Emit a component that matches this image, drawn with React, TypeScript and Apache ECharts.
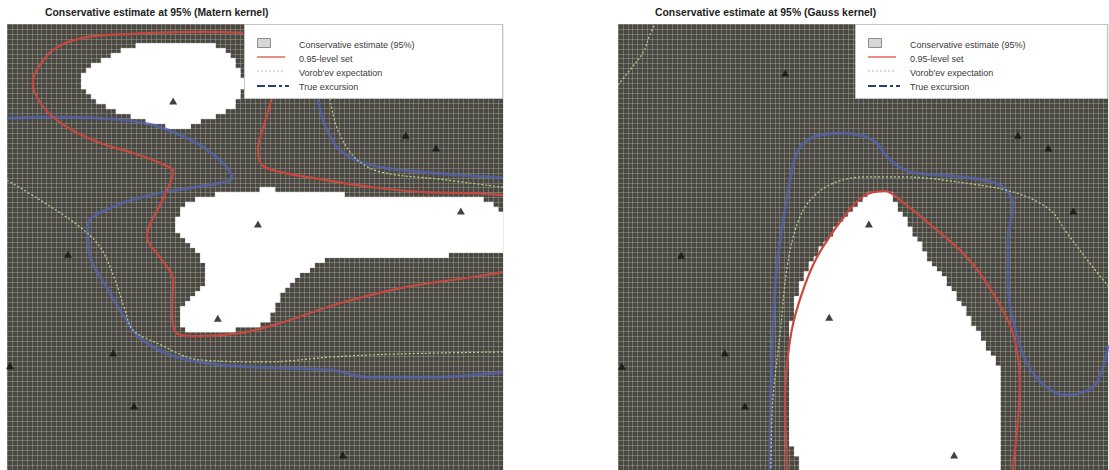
import { useEffect, useRef } from "react";
import * as echarts from "echarts";

// Cell grid: 100 columns per panel, rows counted from the top; the visible
// part of each panel shows rows 0 to ~90.
const X_MAX = 100;
const Y_MAX = 89.9;

// Conservative estimate (95%), one run of cells per row: [row, firstCol, endCol)
const maternEstimateRuns: number[][] = [
  [4, 26, 42], [5, 23, 44], [6, 21, 45], [7, 19, 46], [8, 17, 46], [9, 16, 47],
  [10, 15, 47], [11, 15, 48], [12, 15, 48], [13, 16, 47], [14, 17, 47], [15, 18, 46],
  [16, 20, 46], [17, 22, 44], [18, 25, 42], [19, 28, 39], [20, 32, 37],
  [33, 51, 54], [34, 42, 68], [35, 38, 96], [36, 36, 98], [37, 35, 99], [38, 35, 100],
  [39, 34, 100], [40, 34, 100], [41, 34, 100], [42, 35, 100], [43, 36, 100], [44, 37, 100],
  [45, 38, 100], [46, 39, 89], [47, 39, 64], [48, 40, 62], [49, 40, 61], [50, 40, 59],
  [51, 40, 58], [52, 40, 57], [53, 39, 56], [54, 38, 55], [55, 37, 55], [56, 36, 54],
  [57, 35, 54], [58, 35, 53], [59, 35, 53], [60, 35, 51], [61, 36, 46],
];

const gaussEstimateRuns: number[][] = [
  [34, 51, 56], [35, 50, 56], [36, 49, 57], [37, 48, 57], [38, 47, 58], [39, 46, 59],
  [40, 45, 59], [41, 44, 60], [42, 44, 60], [43, 43, 61], [44, 42, 62], [45, 41, 62],
  [46, 41, 63], [47, 40, 63], [48, 39, 64], [49, 39, 65], [50, 38, 66], [51, 38, 67],
  [52, 37, 67], [53, 37, 68], [54, 37, 69], [55, 36, 69], [56, 36, 70], [57, 36, 71],
  [58, 36, 71], [59, 36, 72], [60, 35, 72], [61, 35, 73], [62, 35, 74], [63, 35, 74],
  [64, 35, 75], [65, 35, 75], [66, 35, 76], [67, 35, 77], [68, 35, 77], [69, 35, 78],
  [70, 35, 78], [71, 35, 78], [72, 35, 78], [73, 35, 78], [74, 35, 78], [75, 35, 78],
  [76, 35, 78], [77, 35, 78], [78, 35, 78], [79, 35, 78], [80, 35, 78], [81, 35, 78],
  [82, 35, 78], [83, 35, 78], [84, 35, 78], [85, 36, 78], [86, 36, 78], [87, 37, 78],
  [88, 37, 78], [89, 37, 78],
];

// Observation locations [x, y]
const maternPoints: number[][] = [
  [33.5, 15.5], [80.4, 22.4], [86.5, 25.0], [50.6, 40.3], [91.5, 37.7], [12.3, 46.4],
  [42.5, 59.3], [21.4, 66.3], [0.6, 68.9], [25.6, 77.0], [67.7, 86.9],
];
const gaussPoints: number[][] = [
  [34.1, 9.9], [81.6, 22.4], [87.8, 25.0], [92.9, 37.7], [51.2, 40.3], [12.9, 46.6],
  [43.1, 59.1], [21.8, 66.3], [0.8, 69.0], [25.9, 77.0], [68.6, 86.9],
];

// 0.95-level set contours
const maternLevelOuter: number[][] = [
  [47.6, 1.8], [38.9, 1.6], [25.4, 2.0], [15.3, 2.8], [9.3, 5.2], [6.0, 9.3], [5.2, 11.9],
  [7.3, 16.7], [12.1, 20.8], [18.8, 24.0], [25.4, 26.0], [30.8, 28.0], [33.5, 29.8],
  [31.3, 35.5], [28.2, 42.9], [30.8, 47.0], [33.5, 51.6], [33.3, 57.7], [33.9, 62.1],
  [37.5, 62.9], [47.0, 62.3], [55.0, 60.3], [67.1, 56.3], [80.6, 53.0], [94.0, 51.0],
  [100, 50.0],
];
const maternLevelInner: number[][] = [
  [53.4, 15.1], [51.8, 20.4], [50.6, 25.4], [51.4, 28.4], [55.0, 29.8], [64.5, 31.5],
  [73.8, 32.9], [83.9, 33.9], [94.0, 34.1], [100, 34.5],
];
const gaussLevel: number[][] = [
  [34.7, 100], [34.5, 89.9], [34.1, 75.8], [35.1, 63.7], [37.1, 55.6], [40.6, 47.0],
  [46.7, 38.1], [50.4, 34.5], [54.5, 33.7], [57.6, 35.5], [64.3, 40.9], [71.2, 47.0],
  [76.5, 54.2], [80.6, 62.3], [82.0, 72.4], [81.4, 82.5], [80.6, 89.9], [80.4, 100],
];

// Vorob'ev expectation contours
const maternVorobevLower: number[][] = [
  [0, 31.5], [6.7, 35.5], [14.7, 40.9], [18.8, 45.0], [21.8, 51.6], [23.8, 57.7],
  [25.4, 61.7], [30.2, 64.3], [38.9, 67.7], [52.4, 68.1], [65.7, 67.1], [79.2, 66.5],
  [100, 66.1],
];
const maternVorobevUpper: number[][] = [
  [65.1, 15.1], [66.7, 21.4], [70.2, 27.0], [75.2, 29.8], [87.3, 31.3], [100, 32.9],
];
const gaussVorobevCorner: number[][] = [
  [0, 12.3], [2.4, 9.3], [5.1, 5.8], [6.5, 2.2], [7.6, 0],
];
const gaussVorobev: number[][] = [
  [31.0, 100], [31.2, 89.3], [31.6, 75.8], [33.1, 62.3], [34.5, 49.0], [36.5, 40.5],
  [39.2, 35.5], [43.9, 32.1], [50.8, 30.8], [57.6, 30.8], [71.2, 32.1], [81.4, 34.1],
  [88.2, 37.5], [91.6, 42.1], [96.9, 49.0], [100.2, 53.0],
];

// True excursion contours
const maternTrueMain: number[][] = [
  [0, 19.0], [8.7, 18.8], [18.8, 19.0], [28.8, 20.2], [37.9, 23.8], [43.3, 27.8],
  [45.4, 31.0], [38.9, 32.7], [28.8, 34.5], [20.8, 37.1], [16.3, 40.5], [16.7, 46.6],
  [20.4, 53.6], [23.8, 59.3], [26.8, 63.3], [32.9, 66.7], [40.9, 68.5], [51.0, 69.2],
  [65.7, 69.8], [72.6, 71.2], [85.9, 71.2], [100, 70.2],
];
const maternTrueUpper: number[][] = [
  [62.7, 15.1], [64.1, 20.4], [67.1, 25.4], [73.2, 28.4], [83.3, 29.8], [100, 31.0],
];
const gaussTrue: number[][] = [
  [31.0, 100], [31.0, 89.3], [31.2, 75.8], [31.6, 62.3], [32.4, 49.0], [34.1, 37.5],
  [36.5, 26.0], [39.8, 22.8], [45.9, 22.0], [52.0, 23.4], [55.5, 27.4], [59.6, 29.8],
  [69.8, 30.8], [78.0, 32.5], [80.6, 36.5], [79.6, 43.5], [79.6, 51.6], [80.6, 59.7],
  [84.7, 70.4], [91.6, 74.8], [96.9, 73.2], [99.0, 69.2], [100, 64.7],
];

const titles = [
  "Conservative estimate at 95% (Matern kernel)",
  "Conservative estimate at 95% (Gauss kernel)",
];
const legendLabels = [
  "Conservative estimate (95%)",
  "0.95-level set",
  "Vorob'ev expectation",
  "True excursion",
];

const FONT = "'Liberation Sans', Arial, Helvetica, sans-serif";
const CELL_BG = "#4a4843";
const CELL_LINE = "rgba(196, 194, 176, 0.34)";
const RED = "#c6493f";
const GREEN = "#b9d48e";
const BLUE = "rgba(84, 100, 176, 0.72)";

const panels = [
  { left: 7, width: 496, legendX: 244, legendRight: 503, titleX: 45 },
  { left: 618, width: 490, legendX: 855, legendRight: 1108, titleX: 655 },
];

const TOP = 24;
const PANEL_HEIGHT = 446;

function legendGraphic(x0: number, right: number) {
  const iconX = x0 + 13;
  const textX = x0 + 55;
  const rows = [45, 59, 73, 87];
  const z = 100;
  return [
    {
      type: "rect",
      z,
      shape: { x: x0 + 0.5, y: 24.5, width: right - x0 - 1, height: 74 },
      style: { fill: "#ffffff", stroke: "#c4c4c4", lineWidth: 1 },
    },
    {
      type: "rect",
      z: z + 1,
      shape: { x: iconX + 0.5, y: 38.5, width: 13, height: 9 },
      style: { fill: "#d6d6d6", stroke: "#8c8c8c", lineWidth: 1 },
    },
    {
      type: "line",
      z: z + 1,
      shape: { x1: iconX, y1: 57, x2: iconX + 28, y2: 57 },
      style: { stroke: "#e3675e", lineWidth: 1.5 },
    },
    {
      type: "line",
      z: z + 1,
      shape: { x1: iconX, y1: 71, x2: iconX + 28, y2: 71 },
      style: { stroke: "#9cc69a", lineWidth: 1.2, lineDash: [2, 2] },
    },
    {
      type: "line",
      z: z + 1,
      shape: { x1: iconX, y1: 86, x2: iconX + 32, y2: 86 },
      style: { stroke: "#2d3d7c", lineWidth: 2, lineDash: [8, 3, 8, 3, 3, 3] },
    },
    ...legendLabels.map((label, i) => ({
      type: "text",
      z: z + 1,
      x: textX,
      y: rows[i],
      style: {
        text: label,
        fill: "#3a3a3a",
        font: `9px ${FONT}`,
        textVerticalAlign: "middle",
      },
    })),
  ];
}

function estimateSeries(runs: number[][], idx: number) {
  return {
    type: "custom",
    xAxisIndex: idx,
    yAxisIndex: idx,
    silent: true,
    clip: true,
    z: 2,
    data: runs.map(([row, start, end]) => [start, end, row]),
    encode: { x: [0, 1], y: 2 },
    renderItem: (_params: any, api: any) => {
      const start = api.value(0);
      const end = api.value(1);
      const row = api.value(2);
      const p0 = api.coord([start, row]);
      const p1 = api.coord([end, row + 1]);
      return {
        type: "rect",
        shape: {
          x: p0[0],
          y: Math.min(p0[1], p1[1]) - 0.4,
          width: p1[0] - p0[0],
          height: Math.abs(p1[1] - p0[1]) + 0.8,
        },
        style: { fill: "#ffffff", stroke: "#ffffff", lineWidth: 0.8 },
      };
    },
  };
}

function contour(data: number[][], idx: number, lineStyle: any) {
  return {
    type: "line",
    xAxisIndex: idx,
    yAxisIndex: idx,
    data,
    symbol: "none",
    showSymbol: false,
    smooth: 0.35,
    silent: true,
    clip: true,
    z: 3,
    lineStyle,
  };
}

function pointSeries(data: number[][], idx: number) {
  return {
    type: "scatter",
    xAxisIndex: idx,
    yAxisIndex: idx,
    data,
    symbol: "triangle",
    symbolSize: [8, 7],
    itemStyle: { color: "#121212" },
    silent: true,
    z: 4,
  };
}

const redStyle = { color: RED, width: 2.2 };
const greenStyle = { color: GREEN, width: 1.2, type: [2, 2] };
const blueStyle = { color: BLUE, width: 3 };

export default function App() {
  const ref = useRef<HTMLDivElement>(null);

  useEffect(() => {
    if (!ref.current) return;
    const chart = echarts.init(ref.current, null, { renderer: "svg" });

    const axisCommon = {
      type: "value",
      min: 0,
      interval: 1,
      axisLine: { show: false },
      axisTick: { show: false },
      axisLabel: { show: false },
      splitLine: { show: true, lineStyle: { color: CELL_LINE, width: 1 } },
    };

    chart.setOption({
      animation: false,
      backgroundColor: "#ffffff",
      textStyle: { fontFamily: FONT },
      grid: panels.map((p) => ({
        left: p.left,
        top: TOP,
        width: p.width,
        height: PANEL_HEIGHT,
        show: true,
        backgroundColor: CELL_BG,
        borderWidth: 0,
        outerBoundsMode: "none",
      })),
      xAxis: panels.map((_, i) => ({ ...axisCommon, max: X_MAX, gridIndex: i })),
      yAxis: panels.map((_, i) => ({
        ...axisCommon,
        max: Y_MAX,
        gridIndex: i,
        inverse: true,
      })),
      graphic: [
        ...panels.map((p, i) => ({
          type: "text",
          x: p.titleX,
          y: 12,
          z: 100,
          style: {
            text: titles[i],
            fill: "#1e1e1e",
            font: `bold 10.4px ${FONT}`,
            textVerticalAlign: "middle",
          },
        })),
        ...panels.flatMap((p) => legendGraphic(p.legendX, p.legendRight)),
      ],
      series: [
        estimateSeries(maternEstimateRuns, 0),
        estimateSeries(gaussEstimateRuns, 1),
        contour(maternTrueMain, 0, blueStyle),
        contour(maternTrueUpper, 0, blueStyle),
        contour(gaussTrue, 1, blueStyle),
        contour(maternVorobevLower, 0, greenStyle),
        contour(maternVorobevUpper, 0, greenStyle),
        contour(gaussVorobevCorner, 1, greenStyle),
        contour(gaussVorobev, 1, greenStyle),
        contour(maternLevelOuter, 0, redStyle),
        contour(maternLevelInner, 0, redStyle),
        contour(gaussLevel, 1, redStyle),
        pointSeries(maternPoints, 0),
        pointSeries(gaussPoints, 1),
      ],
    });

    return () => chart.dispose();
  }, []);

  return (
    <div
      ref={ref}
      style={{ position: "absolute", left: 0, top: 0, width: 1109, height: 470 }}
    />
  );
}
